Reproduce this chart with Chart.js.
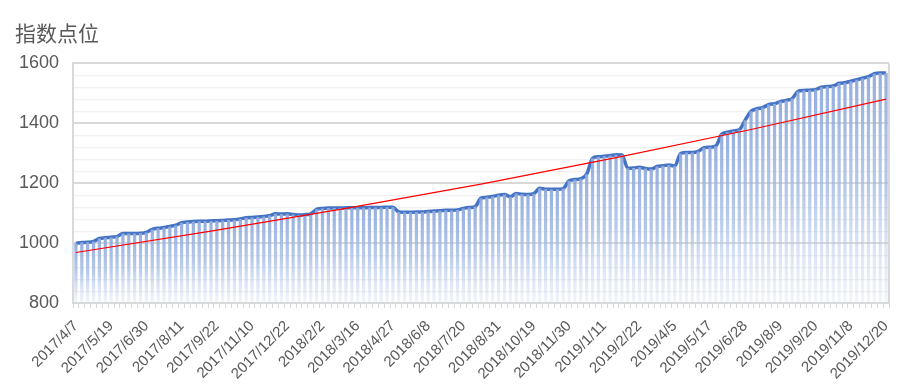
<!DOCTYPE html>
<html>
<head>
<meta charset="utf-8">
<script src="https://cdn.jsdelivr.net/npm/chart.js@4/dist/chart.umd.min.js"></script>
<style>
  html, body { margin: 0; padding: 0; background: #ffffff; }
  #wrap { width: 899px; height: 392px; }
</style>
</head>
<body>
<div id="wrap"><canvas id="chart" width="899" height="392"></canvas></div>
<script>
// weekly dates (Fridays, National Day weeks missing)
const dates = [
  '2017/4/7','2017/4/14','2017/4/21','2017/4/28','2017/5/5','2017/5/12','2017/5/19','2017/5/26',
  '2017/6/2','2017/6/9','2017/6/16','2017/6/23','2017/6/30','2017/7/7','2017/7/14','2017/7/21',
  '2017/7/28','2017/8/4','2017/8/11','2017/8/18','2017/8/25','2017/9/1','2017/9/8','2017/9/15',
  '2017/9/22','2017/9/29','2017/10/13','2017/10/20','2017/10/27','2017/11/3','2017/11/10','2017/11/17',
  '2017/11/24','2017/12/1','2017/12/8','2017/12/15','2017/12/22','2017/12/29',
  '2018/1/5','2018/1/12','2018/1/19','2018/1/26','2018/2/2','2018/2/9','2018/2/16','2018/2/23',
  '2018/3/2','2018/3/9','2018/3/16','2018/3/23','2018/3/30','2018/4/6','2018/4/13','2018/4/20',
  '2018/4/27','2018/5/4','2018/5/11','2018/5/18','2018/5/25','2018/6/1','2018/6/8','2018/6/15',
  '2018/6/22','2018/6/29','2018/7/6','2018/7/13','2018/7/20','2018/7/27','2018/8/3','2018/8/10',
  '2018/8/17','2018/8/24','2018/8/31','2018/9/7','2018/9/14','2018/9/21','2018/9/28','2018/10/12',
  '2018/10/19','2018/10/26','2018/11/2','2018/11/9','2018/11/16','2018/11/23','2018/11/30','2018/12/7',
  '2018/12/14','2018/12/21','2018/12/28',
  '2019/1/4','2019/1/11','2019/1/18','2019/1/25','2019/2/1','2019/2/8','2019/2/15','2019/2/22',
  '2019/3/1','2019/3/8','2019/3/15','2019/3/22','2019/3/29','2019/4/5','2019/4/12','2019/4/19',
  '2019/4/26','2019/5/3','2019/5/10','2019/5/17','2019/5/24','2019/5/31','2019/6/7','2019/6/14',
  '2019/6/21','2019/6/28','2019/7/5','2019/7/12','2019/7/19','2019/7/26','2019/8/2','2019/8/9',
  '2019/8/16','2019/8/23','2019/8/30','2019/9/6','2019/9/13','2019/9/20','2019/9/27','2019/10/11',
  '2019/10/18','2019/10/25','2019/11/1','2019/11/8','2019/11/15','2019/11/22','2019/11/29','2019/12/6',
  '2019/12/13','2019/12/20'
];

// index points
const indexValues = [
  1000,1002,1003,1006,1016,1018,1020,1022,1032,1032,1032,1033,1036,1046,1050,1052,
  1056,1060,1068,1071,1072,1073,1073,1074,1075,1076,1077,1078,1081,1085,1086,1087,
  1089,1092,1098,1097,1098,1096,1094,1095,1098,1113,1116,1117,1117,1117,1118,1118,
  1118,1118,1119,1119,1119,1120,1120,1104,1103,1103,1104,1104,1106,1107,1108,1110,
  1110,1111,1116,1119,1122,1150,1153,1156,1160,1162,1155,1166,1163,1162,1165,1183,
  1180,1180,1180,1182,1208,1212,1215,1230,1283,1288,1290,1292,1295,1294,1250,1251,
  1253,1249,1247,1256,1258,1261,1257,1299,1302,1302,1306,1318,1320,1324,1363,1370,
  1374,1378,1410,1440,1448,1452,1462,1465,1472,1476,1482,1506,1509,1510,1512,1520,
  1522,1524,1533,1535,1540,1545,1550,1555,1565,1567,1567
];

// exponential trend line, read at a few categories
const trendIdx = [0, 23, 46, 69, 92, 115, 138];
const trendVal = [969, 1040, 1116, 1197, 1285, 1379, 1480];

const yTicks = [800, 1000, 1200, 1400, 1600];

const trendData = dates.map(() => null);
trendIdx.forEach((idx, k) => { trendData[idx] = trendVal[k]; });

const axisGray = '#d9d9d9';
const textGray = '#595959';

function isMajor(v) {
  return Math.abs(Math.round(v) % 200) === 0;
}

function barFill(context) {
  const chart = context.chart;
  const area = chart.chartArea;
  const v = context.raw;
  if (!area || v == null || !chart.scales.y) return 'rgba(143,170,220,0.8)';
  const yScale = chart.scales.y;
  const top = yScale.getPixelForValue(v);
  const bottom = yScale.getPixelForValue(800);
  const g = chart.ctx.createLinearGradient(0, top, 0, bottom);
  g.addColorStop(0, 'rgba(143,170,220,0.95)');
  g.addColorStop(0.5, 'rgba(160,185,228,0.75)');
  g.addColorStop(1, 'rgba(200,215,240,0.25)');
  return g;
}

const plotBorder = {
  id: 'plotBorder',
  afterDatasetsDraw(chart) {
    const { ctx, chartArea } = chart;
    ctx.save();
    ctx.strokeStyle = axisGray;
    ctx.lineWidth = 2;
    ctx.beginPath();
    ctx.moveTo(chartArea.right, chartArea.top);
    ctx.lineTo(chartArea.right, chartArea.bottom);
    ctx.stroke();
    ctx.restore();
  }
};

const ctx = document.getElementById('chart').getContext('2d');
new Chart(ctx, {
  data: {
    labels: dates,
    datasets: [
      {
        type: 'line',
        label: 'trend',
        data: trendData,
        borderColor: '#ff0000',
        borderWidth: 1.2,
        pointRadius: 0,
        spanGaps: true,
        tension: 0,
        order: 0
      },
      {
        type: 'bar',
        label: 'bars',
        data: indexValues,
        backgroundColor: barFill,
        borderWidth: 0,
        barPercentage: 0.55,
        categoryPercentage: 1,
        order: 1
      },
      {
        type: 'line',
        label: '指数点位',
        data: indexValues,
        borderColor: '#4472c4',
        borderWidth: 3.5,
        pointRadius: 0,
        cubicInterpolationMode: 'monotone',
        order: 2
      }
    ]
  },
  options: {
    responsive: false,
    animation: false,
    layout: { padding: { left: 15, right: 10, top: 0, bottom: 0 } },
    plugins: {
      legend: { display: false },
      tooltip: { enabled: false },
      title: {
        display: true,
        text: '指数点位',
        align: 'start',
        color: textGray,
        font: { family: '"Noto Sans CJK SC", sans-serif', size: 21, weight: 'normal' },
        padding: { top: 20, bottom: 18 }
      }
    },
    scales: {
      x: {
        offset: true,
        afterFit: function (scale) {
          scale.paddingLeft = 0;
          scale.paddingRight = 0;
        },
        grid: {
          display: true,
          drawOnChartArea: false,
          drawTicks: true,
          tickLength: 5,
          color: axisGray,
          lineWidth: 1
        },
        border: { display: true, color: axisGray, width: 2 },
        ticks: {
          autoSkip: false,
          maxRotation: 45,
          minRotation: 45,
          padding: 9,
          color: textGray,
          font: { family: '"Liberation Sans", Arial, sans-serif', size: 15 },
          callback: function (value, index) {
            return index % 6 === 0 ? dates[index] : '';
          }
        }
      },
      y: {
        min: 800,
        max: 1600,
        afterFit: function (scale) { scale.width = 58; },
        ticks: {
          stepSize: 40,
          autoSkip: false,
          padding: 14,
          color: textGray,
          font: { family: '"Liberation Sans", Arial, sans-serif', size: 18 },
          callback: function (value) {
            const r = Math.round(value);
            return yTicks.includes(r) ? String(r) : '';
          }
        },
        grid: {
          drawTicks: false,
          color: (c) => (c.tick && isMajor(c.tick.value) ? axisGray : '#f0f0f0'),
          lineWidth: (c) => (c.tick && isMajor(c.tick.value) ? 2 : 1.2)
        },
        border: { display: true, color: axisGray, width: 2 }
      }
    }
  },
  plugins: [plotBorder]
});
</script>
</body>
</html>
